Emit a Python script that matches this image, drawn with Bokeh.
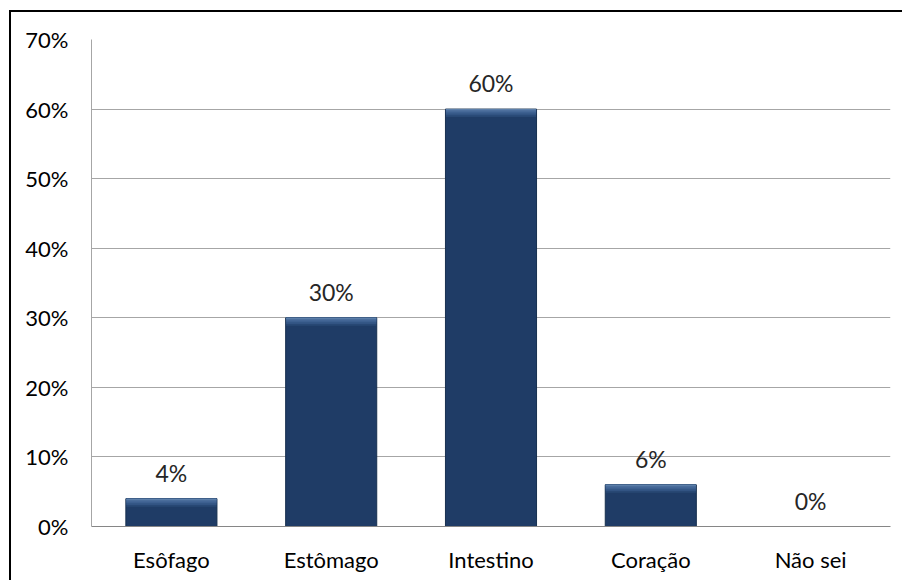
from bokeh.plotting import figure
from bokeh.models import ColumnDataSource, Range1d, PrintfTickFormatter, FixedTicker
from bokeh.core.properties import value
from bokeh.embed import file_html
from bokeh.resources import INLINE

# Survey answers and their shares (%)
categories = ["Esôfago", "Estômago", "Intestino", "Coração", "Não sei"]
shares = [4, 30, 60, 6, 0]
y_ticks = [0, 10, 20, 30, 40, 50, 60, 70]

FONT = "Lato"
BAR = "#1f3c66"
GRID = "#a6a6a6"
BAR_W = 0.57

# bevel bands along the top of each bar: (depth in percentage points, colour)
bevel_bands = [(1.15, "#284874"), (0.9, "#325483"), (0.65, "#3d6090"),
               (0.4, "#4a6d9b"), (0.18, "#5b7ea9")]

src = ColumnDataSource(dict(
    cat=categories,
    share=shares,
    label=[f"{v}%" for v in shares],
))

p = figure(
    x_range=categories,
    y_range=Range1d(0, 70),
    width=893,
    height=570,
    output_backend="svg",
    toolbar_location=None,
    min_border_left=80,
    min_border_right=14,
    min_border_top=27,
    min_border_bottom=56,
    styles={
        "margin-left": "9px",
        "margin-top": "10px",
        "border-left": "2px solid black",
        "border-top": "2px solid black",
    },
)
p.outline_line_color = None
p.background_fill_color = "white"
p.border_fill_color = "white"

# bars
p.vbar(x="cat", top="share", bottom=0, width=BAR_W, source=src,
       fill_color=BAR, line_color="#17304f", line_width=1)

# bevelled top edge, drawn as stacked bands getting lighter toward the top
for depth, colour in bevel_bands:
    band = ColumnDataSource(dict(
        cat=categories,
        top=shares,
        bottom=[max(v - depth, 0) for v in shares],
    ))
    p.vbar(x="cat", top="top", bottom="bottom", width=BAR_W - 0.006, source=band,
           fill_color=colour, line_color=None)

# value labels above the bars
p.text(x="cat", y="share", text="label", source=src,
       text_font=value(FONT), text_font_size="23px", text_color="#262626",
       text_align="center", text_baseline="bottom", y_offset=-12)

# grid and axes
p.xgrid.grid_line_color = None
p.ygrid.grid_line_color = GRID
p.ygrid.grid_line_width = 1
p.yaxis.ticker = FixedTicker(ticks=y_ticks)
p.yaxis.formatter = PrintfTickFormatter(format="%d%%")

for ax in (p.xaxis, p.yaxis):
    ax.major_tick_line_color = None
    ax.minor_tick_line_color = None
    ax.major_label_text_font = FONT
    ax.major_label_text_font_size = "22px"
    ax.major_label_text_color = "#000000"
    ax.major_label_text_font_style = "normal"

p.yaxis.axis_line_color = GRID
p.yaxis.major_label_standoff = 17
p.xaxis.axis_line_color = "#868686"
p.xaxis.major_label_standoff = 13

open("out.html", "w").write(file_html(p, INLINE))
